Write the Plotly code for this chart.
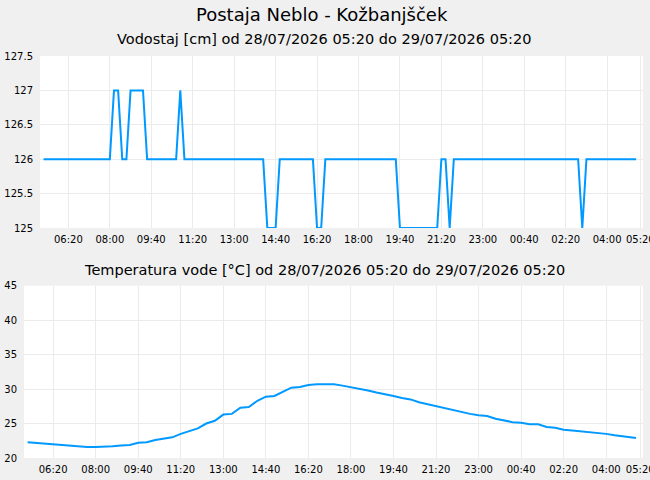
import plotly.graph_objects as go

# ---- data ----
level_times = ["05:20", "08:00", "08:10", "08:20", "08:30", "08:40", "08:50", "09:20", "09:30",
               "10:40", "10:50", "11:00", "14:10", "14:20", "14:40", "14:50", "16:10", "16:20",
               "16:30", "16:40", "19:30", "19:40", "21:10", "21:20", "21:30", "21:40", "21:50",
               "02:50", "03:00", "03:10", "05:10"]
level_values = [126, 126, 127, 127, 126, 126, 127, 127, 126,
                126, 127, 126, 126, 125, 125, 126, 126, 125,
                125, 126, 126, 125, 125, 126, 126, 125, 126,
                126, 125, 126, 126]

temp_times = ["05:20", "05:40", "06:00", "06:20", "06:40", "07:00", "07:20", "07:40", "08:00",
              "08:20", "08:40", "09:00", "09:20", "09:40", "10:00", "10:20", "10:40", "11:00",
              "11:20", "11:40", "12:00", "12:20", "12:40", "13:00", "13:20", "13:40", "14:00",
              "14:20", "14:40", "15:00", "15:20", "15:40", "16:00", "16:20", "16:40", "17:00",
              "17:20", "17:40", "18:00", "18:20", "18:40", "19:00", "19:20", "19:40", "20:00",
              "20:20", "20:40", "21:00", "21:20", "21:40", "22:00", "22:20", "22:40", "23:00",
              "23:20", "23:40", "00:00", "00:20", "00:40", "01:00", "01:20", "01:40", "02:00",
              "02:20", "02:40", "03:00", "03:20", "03:40", "04:00", "04:20", "04:40", "05:00",
              "05:10"]
temp_values = [22.3, 22.2, 22.1, 21.9, 21.8, 21.8, 21.6, 21.6, 21.6,
               21.6, 21.7, 21.8, 21.9, 22.2, 22.3, 22.6, 22.8, 23.0,
               23.5, 23.9, 24.3, 25.0, 25.4, 26.3, 26.4, 27.3, 27.4,
               28.3, 28.9, 29.0, 29.6, 30.2, 30.3, 30.6, 30.7, 30.7,
               30.7, 30.5, 30.3, 30.1, 29.8, 29.5, 29.3, 29.0, 28.7,
               28.5, 28.1, 27.8, 27.5, 27.2, 26.9, 26.7, 26.4, 26.2,
               26.1, 25.7, 25.4, 25.2, 25.1, 24.9, 24.9, 24.5, 24.4,
               24.1, 24.0, 23.9, 23.8, 23.6, 23.5, 23.3, 23.1, 22.95,
               22.9]

x_tick_labels = ["06:20", "08:00", "09:40", "11:20", "13:00", "14:40", "16:20", "18:00",
                 "19:40", "21:20", "23:00", "00:40", "02:20", "04:00", "05:20"]
x_range = ["2026-07-28 05:11:30", "2026-07-29 05:26:30"]


def to_dates(times):
    out, day, prev = [], 28, None
    for t in times:
        if prev is not None and t < prev:
            day += 1
        prev = t
        out.append(f"2026-07-{day:02d} {t}")
    return out


LINE = "#0099ff"
GRID = "#ebebeb"
FONT = "DejaVu Sans"

fig = go.Figure()
fig.add_trace(go.Scatter(x=to_dates(level_times), y=level_values, mode="lines",
                         line=dict(color=LINE, width=2), xaxis="x", yaxis="y",
                         showlegend=False, hoverinfo="skip"))
fig.add_trace(go.Scatter(x=to_dates(temp_times), y=temp_values, mode="lines",
                         line=dict(color=LINE, width=2), xaxis="x2", yaxis="y2",
                         showlegend=False, hoverinfo="skip"))

xcommon = dict(type="date", range=x_range, tickmode="array",
               tickvals=to_dates(x_tick_labels), ticktext=x_tick_labels,
               showgrid=True, gridcolor=GRID, gridwidth=1, automargin=False,
               zeroline=False, showline=False, ticks="outside", ticklen=2,
               tickcolor="rgba(0,0,0,0)", tickfont=dict(family=FONT, size=10, color="#000"),
               ticklabeloverflow="allow", fixedrange=True)
ycommon = dict(showgrid=True, gridcolor=GRID, gridwidth=1, zeroline=False, showline=False,
               ticks="outside", ticklen=4, tickcolor="rgba(0,0,0,0)", automargin=False,
               tickfont=dict(family=FONT, size=10, color="#000"), fixedrange=True)

fig.update_layout(
    width=650, height=480, autosize=False,
    margin=dict(l=0, r=0, t=0, b=0),
    paper_bgcolor="#f0f0f0", plot_bgcolor="#ffffff",
    xaxis=dict(domain=[40 / 650, 643 / 650], anchor="y", **xcommon),
    yaxis=dict(domain=[1 - 228 / 480, 1 - 56 / 480], anchor="x", range=[125, 127.5], dtick=0.5,
               **ycommon),
    xaxis2=dict(domain=[24 / 650, 643 / 650], anchor="y2", **xcommon),
    yaxis2=dict(domain=[1 - 458 / 480, 1 - 285.7 / 480], anchor="x2", range=[20, 45], dtick=5,
                **ycommon),
    annotations=[
        dict(text="Postaja Neblo - Kožbanjšček", x=322 / 650, y=1 - 14 / 480, xref="paper",
             yref="paper", xanchor="center", yanchor="middle", showarrow=False,
             font=dict(family=FONT, size=18, color="#000")),
        dict(text="Vodostaj [cm] od 28/07/2026 05:20 do 29/07/2026 05:20", x=324 / 650,
             y=1 - 39 / 480, xref="paper", yref="paper", xanchor="center", yanchor="middle",
             showarrow=False, font=dict(family=FONT, size=14.5, color="#000")),
        dict(text="Temperatura vode [°C] od 28/07/2026 05:20 do 29/07/2026 05:20", x=324 / 650,
             y=1 - 270 / 480, xref="paper", yref="paper", xanchor="center", yanchor="middle",
             showarrow=False, font=dict(family=FONT, size=14.5, color="#000")),
    ],
)

clip_js = ("var d=document.getElementById('{plot_id}');d.style.overflow='hidden';"
           "document.documentElement.style.overflow='hidden';"
           "document.body.style.overflow='hidden';")
fig.write_html("out.html", post_script=clip_js)
